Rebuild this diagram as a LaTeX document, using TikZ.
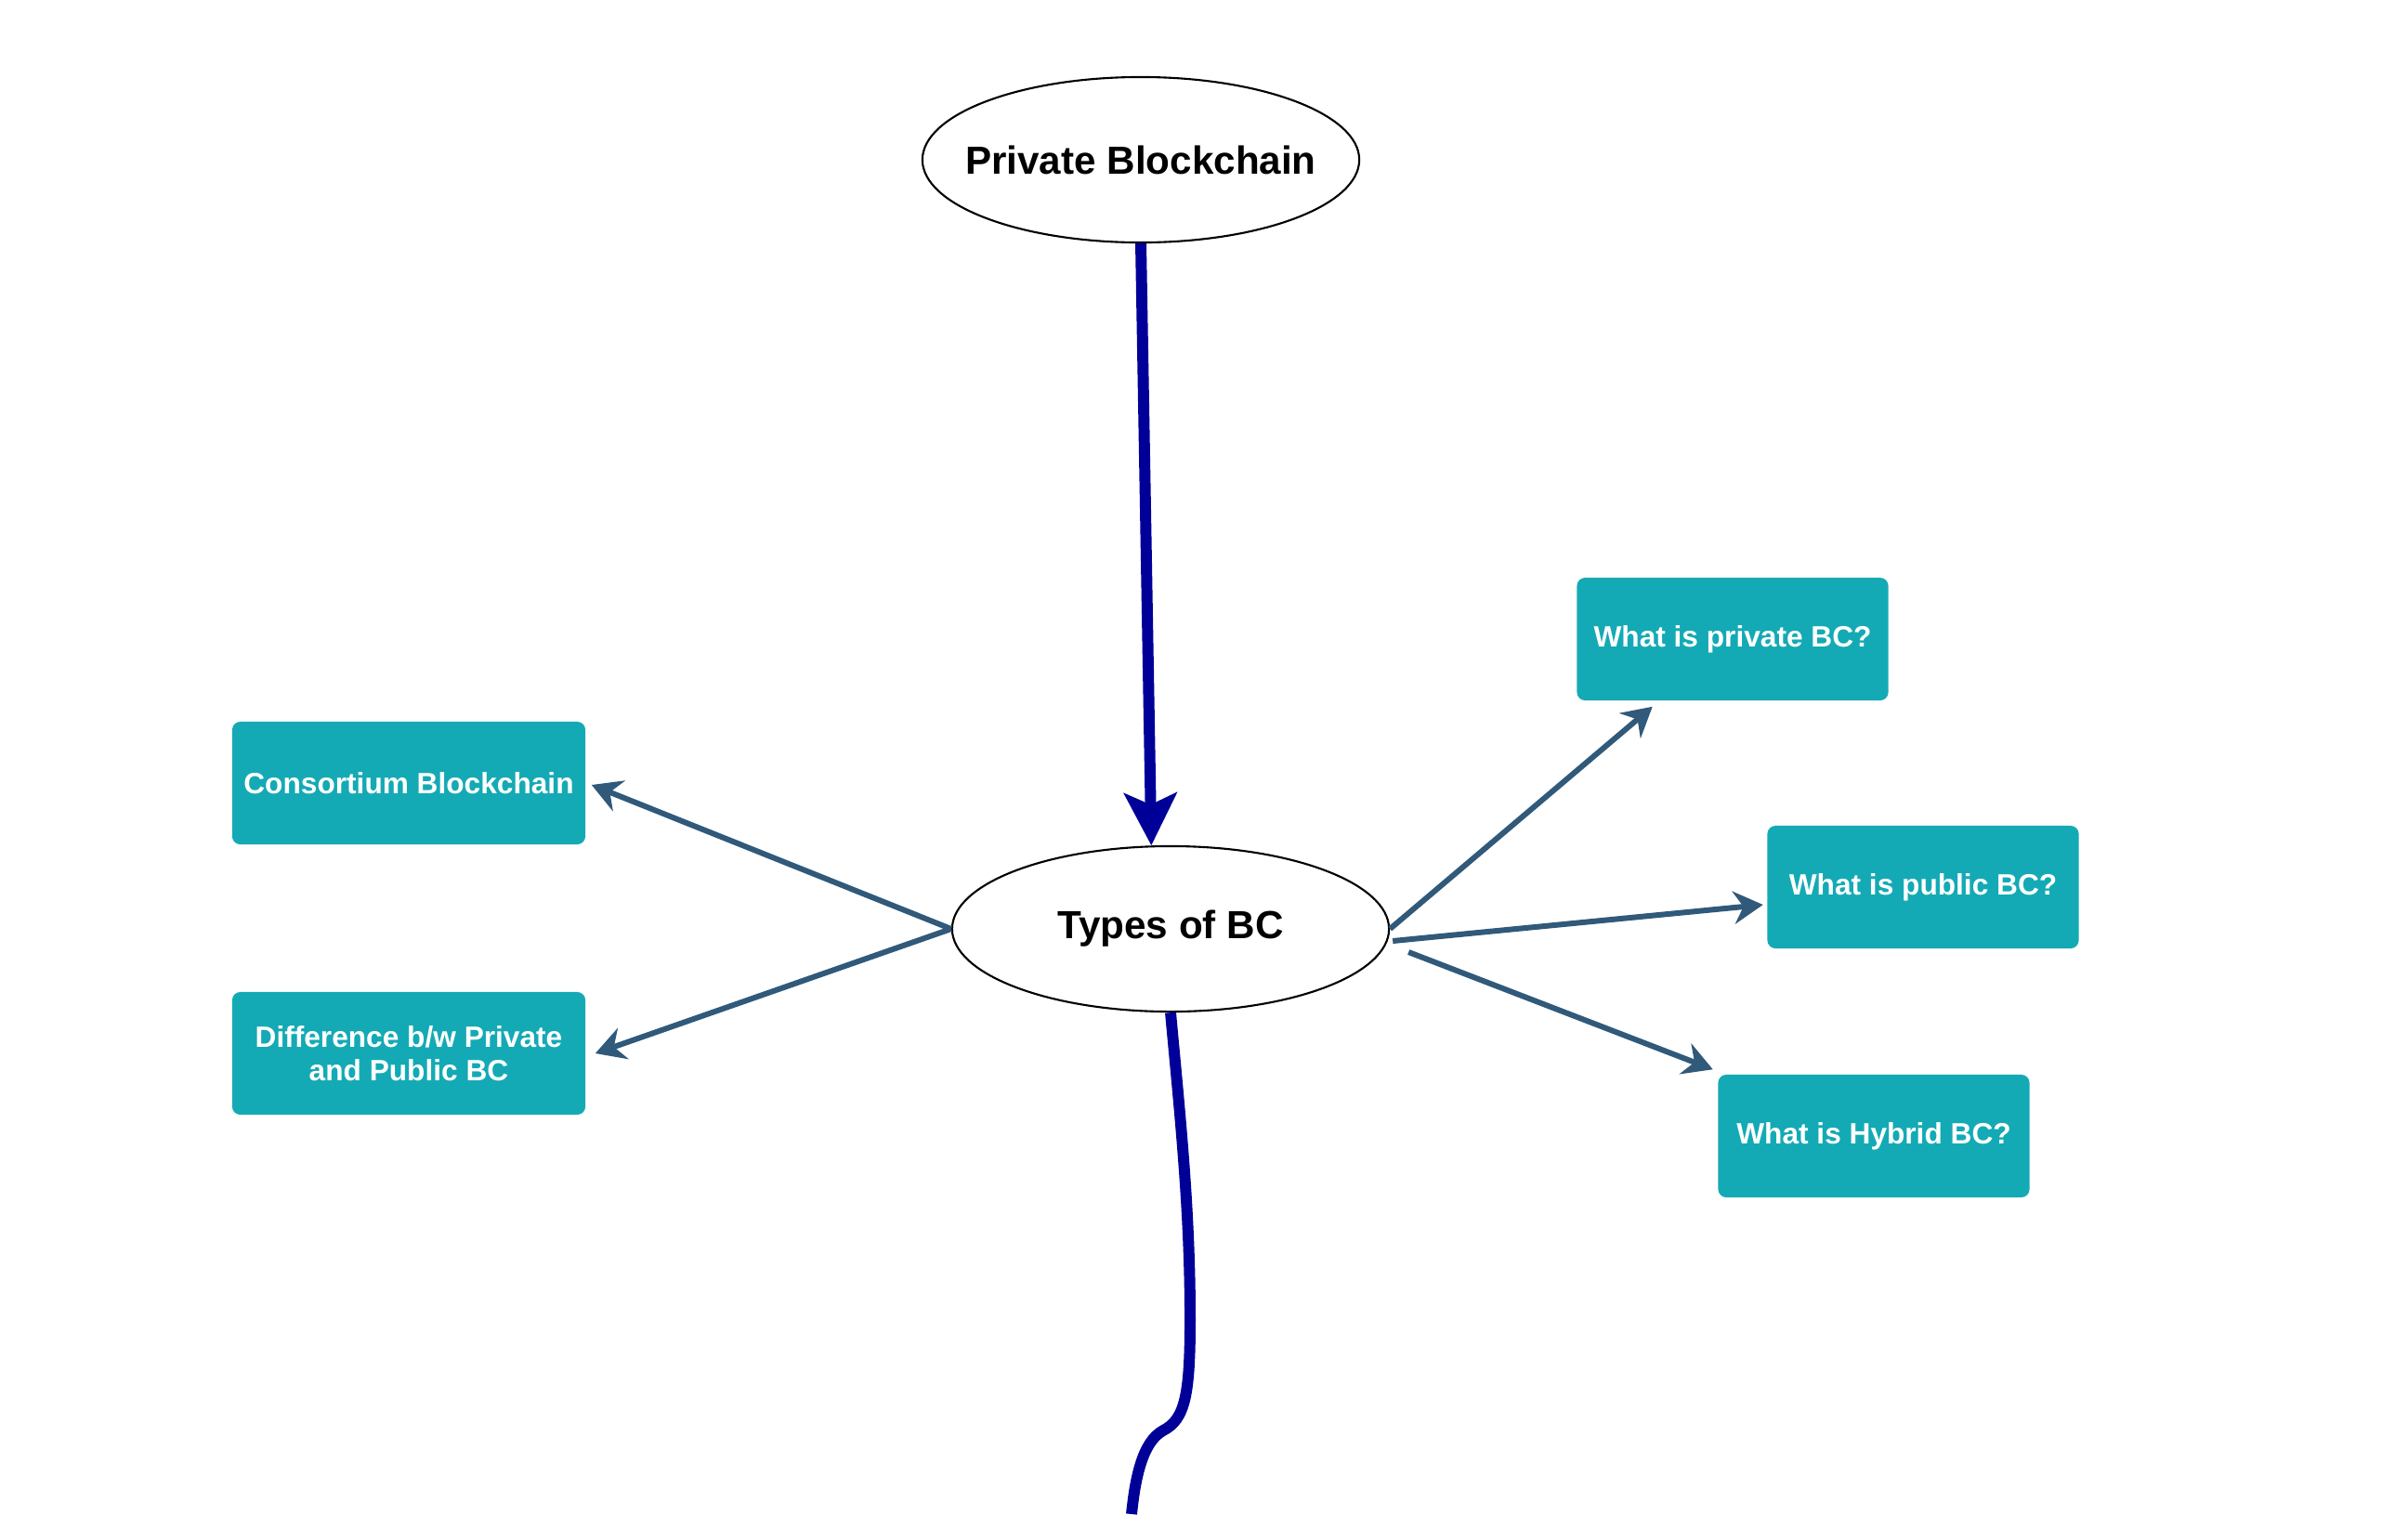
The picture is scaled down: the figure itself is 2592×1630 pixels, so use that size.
\documentclass[tikz,border=0pt]{standalone}
\usepackage{fontspec}
\setmainfont{Liberation Sans}
\usetikzlibrary{arrows.meta,shapes.geometric,calc}
\definecolor{boxteal}{HTML}{14AAB5}
\definecolor{linkblue}{HTML}{30597A}
\definecolor{mainblue}{HTML}{000099}
\begin{document}
\begin{tikzpicture}[x=0.01cm,y=-0.01cm,
  topic/.style={ellipse,draw=black,line width=0.6pt,fill=white,minimum width=4.7cm,minimum height=1.78cm,inner sep=0pt,
    font=\fontsize{12}{14}\selectfont\bfseries},
  leaf/.style={rectangle,rounded corners=2.5pt,fill=boxteal,text=white,minimum width=3.8cm,minimum height=1.32cm,
    align=center,font=\fontsize{9}{10.3}\selectfont\bfseries,inner sep=2pt},
  leafwide/.style={leaf,minimum width=3.35cm},
  link/.style={draw=linkblue,line width=1.7pt,-{Stealth[length=9pt,width=10pt,inset=3pt]}},
  mainlink/.style={draw=mainblue,line width=3.4pt,-{Stealth[length=16pt,width=16pt,inset=3.5pt]}},
  mainline/.style={draw=mainblue,line width=3.4pt}]
\useasboundingbox (0,0) rectangle (2592,1630);
\fill[white] (0,0) rectangle (2592,1630);

\node[topic] (P) at (1228,172) {\makebox[0pt][c]{Private Blockchain}};
\node[topic] (T) at (1260,1000) {\makebox[0pt][c]{Types of BC}};

\node[leaf] (B1) at (440,843) {Consortium Blockchain};
\node[leaf] (B2) at (440,1134) {Difference b/w Private\\and Public BC};
\node[leafwide] (B3) at (1865,688) {What is private BC?};
\node[leafwide] (B4) at (2070,955) {What is public BC?};
\node[leafwide] (B5) at (2017,1223) {What is Hybrid BC?};

\coordinate (bottomend) at (1218,1630);

\draw[mainlink] (P.south) -- (T.103);
\draw[mainline] (T.south) .. controls (1270,1200) and (1281,1300) .. (1281,1420)
  .. controls (1281,1500) and (1276,1528) .. (1252,1540)
  .. controls (1230,1552) and (1222,1590) .. (bottomend);

\draw[link] (T.west) -- ($(B1.east)+(6,2)$);
\draw[link] (T.west) -- ($(B2.east)+(10,0)$);
\draw[link] (T.east) -- ($(B3.south west)+(82,6)$);
\draw[link] ($(T.east)+(3,13)$) -- ($(B4.west)+(-4,19)$);
\draw[link] ($(T.east)+(20,25)$) -- ($(B5.north west)+(-5,-5)$);
\end{tikzpicture}
\end{document}
